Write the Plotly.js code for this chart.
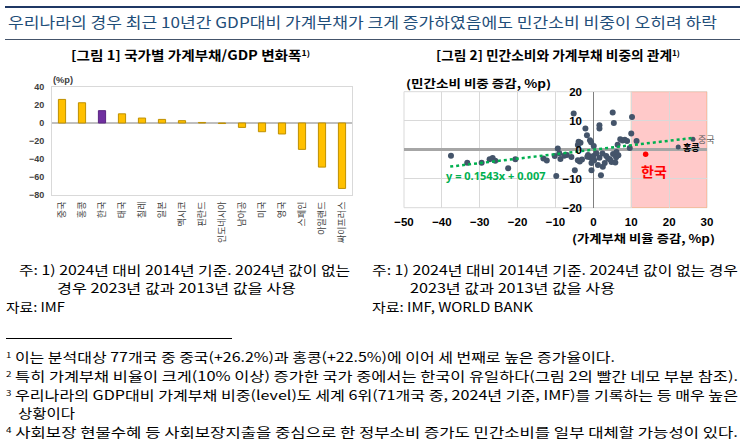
<!DOCTYPE html>
<html><head><meta charset="utf-8">
<script src="https://cdn.plot.ly/plotly-3.0.1.min.js"></script>
<style>
html,body{margin:0;padding:0;background:#fff;width:743px;height:444px;overflow:hidden;}
#chart{position:absolute;left:0;top:0;width:743px;height:444px;}
.t{position:absolute;white-space:nowrap;font-family:"Noto Sans CJK KR","Noto Sans",sans-serif;transform-origin:0 50%;color:#000;}
.hl{position:absolute;}
sup{font-size:60%;vertical-align:0;position:relative;top:-0.55em;}
</style></head><body>
<div id="chart"></div>
<div class="hl" style="left:5px;top:6px;width:735px;height:2px;background:#1f3864"></div>
<div class="t" data-w="709" style="left:8px;top:13px;font-size:15px;line-height:18px;color:#1f4e79;">우리나라의 경우 최근 10년간 GDP대비 가계부채가 크게 증가하였음에도 민간소비 비중이 오히려 하락</div>
<div class="hl" style="left:5px;top:39px;width:735px;height:1px;background:#44546a"></div>
<div class="t" data-w="239" style="left:71px;top:47px;font-size:13px;line-height:16px;font-weight:bold;">[그림 1] 국가별 가계부채/GDP 변화폭<sup>1)</sup></div>
<div class="t" data-w="244" style="left:436px;top:47px;font-size:13px;line-height:16px;font-weight:bold;">[그림 2] 민간소비와 가계부채 비중의 관계<sup>1)</sup></div>
<div class="t" data-w="20" style="left:53px;top:75px;font-size:9px;line-height:11px;font-weight:bold;color:#404040;font-family:'Liberation Sans',sans-serif;">(%p)</div>
<div class="t" data-w="145" style="left:406px;top:77px;font-size:11px;line-height:13px;font-weight:bold;">(민간소비 비중 증감, %p)</div>
<div class="t" data-w="143" style="left:572px;top:232px;font-size:11px;line-height:12px;font-weight:bold;">(가계부채 비율 증감, %p)</div>

<div class="t" data-w="331" style="left:19px;top:262px;font-size:13px;line-height:16px;">주: 1) 2024년 대비 2014년 기준. 2024년 값이 없는</div>
<div class="t" data-w="239" style="left:57px;top:280px;font-size:13px;line-height:16px;">경우 2023년 값과 2013년 값을 사용</div>
<div class="t" data-w="59" style="left:6px;top:299px;font-size:13px;line-height:16px;">자료: IMF</div>
<div class="t" data-w="366" style="left:372px;top:262px;font-size:13px;line-height:16px;">주: 1) 2024년 대비 2014년 기준. 2024년 값이 없는 경우</div>
<div class="t" data-w="205" style="left:410px;top:280px;font-size:13px;line-height:16px;">2023년 값과 2013년 값을 사용</div>
<div class="t" data-w="161" style="left:372px;top:299px;font-size:13px;line-height:16px;">자료: IMF, WORLD BANK</div>

<div class="hl" style="left:6px;top:338px;width:226px;height:1px;background:#000"></div>
<div class="t" data-w="609" style="left:6px;top:349px;font-size:13px;line-height:16px;"><sup>1</sup> 이는 분석대상 77개국 중 중국(+26.2%)과 홍콩(+22.5%)에 이어 세 번째로 높은 증가율이다.</div>
<div class="t" data-w="732" style="left:6px;top:368px;font-size:13px;line-height:16px;"><sup>2</sup> 특히 가계부채 비율이 크게(10% 이상) 증가한 국가 중에서는 한국이 유일하다(그림 2의 빨간 네모 부분 참조).</div>
<div class="t" data-w="732" style="left:6px;top:387px;font-size:13px;line-height:16px;"><sup>3</sup> 우리나라의 GDP대비 가계부채 비중(level)도 세계 6위(71개국 중, 2024년 기준, IMF)를 기록하는 등 매우 높은</div>
<div class="t" data-w="57" style="left:18px;top:405px;font-size:13px;line-height:16px;">상황이다</div>
<div class="t" data-w="732" style="left:6px;top:424px;font-size:13px;line-height:16px;"><sup>4</sup> 사회보장 현물수혜 등 사회보장지출을 중심으로 한 정부소비 증가도 민간소비를 일부 대체할 가능성이 있다.</div>

<script>
// Figure 1 data
const countries = ['중국','홍콩','한국','태국','칠레','일본','멕시코','핀란드','인도네시아','남아공','미국','영국','스페인','아일랜드','싸이프러스'];
const debtChange = [26.2,22.5,13.7,10.2,5.5,4.0,2.6,0.6,-0.6,-4.9,-9.7,-12.2,-29.3,-49.0,-72.7];
const highlightCountry = '한국';

// Figure 2 data (debt/GDP change, private consumption share change)
const debtX = [-37.6,-33.3,-29.5,-27.4,-26.6,-25.9,-22.5,-20.6,-13.2,-12.3,-9.8,-9.4,-10.2,-9.0,-8.7,-7.7,-7.0,-5.8,
  -5.2,-4.9,-4.1,-3.9,-3.4,-4.1,-3.6,-3.0,-2.1,-1.7,-0.9,-0.6,-0.5,-1.4,-0.9,-0.3,0.2,-0.5,0.1,-1.6,0.0,
  1.6,1.6,1.2,2.0,1.6,2.5,2.4,3.4,3.9,4.8,5.1,5.4,5.2,6.0,6.6,6.1,6.4,7.1,7.7,8.3,8.9,9.6,10.0,10.2,11.4,3.0,4.4,5.8,0.8];
const consY = [-2.1,-4.5,-4.5,-3.3,-2.9,-3.8,-6.4,-3.3,-3.0,-3.7,-9.1,0.4,-2.2,-1.2,-3.2,-2.1,-1.8,-2.5,
  12.5,-7.1,1.6,2.7,2.4,-3.6,-4.1,-3.4,7.3,5.0,3.3,2.6,-7.1,-1.8,-2.6,-3.2,-3.6,-4.6,1.3,-2.4,-2.2,
  8.4,7.3,-5.3,-8.8,-2.8,-5.9,-1.3,-2.2,-3.0,-4.2,12.8,9.2,-1.5,-2.6,-1.9,-0.8,1.7,3.6,3.2,3.4,3.0,0.6,5.6,11.3,3.0,-4.6,-3.4,-4.4,-1.2];
const labeledNames = ['중국','홍콩'];
const labeledX = [26.3,22.4];
const labeledY = [3.6,0.9];
const koreaX = [13.8];
const koreaY = [-1.6];
const trendSlope = 0.1543, trendIntercept = 0.007;
const trendRangeX = [-37.8, 26.5];
const highlightBoxX = [10, 30];

const barColors = countries.map(c => c === highlightCountry ? '#7030a0' : '#ffc000');
const barLines = countries.map(c => c === highlightCountry ? '#5b2583' : '#bf9000');

const tickFontBar = {family:'Liberation Sans, Arial, sans-serif', size:9, color:'#404040', weight:'bold'};
const tickFontSc = {family:'Liberation Sans, Arial, sans-serif', size:11.5, color:'#000', weight:'bold'};

const traces = [
  {type:'bar', x:countries, y:debtChange, xaxis:'x', yaxis:'y', width:0.36,
   marker:{color:barColors, line:{color:barLines, width:1}}, hoverinfo:'skip'},
  {type:'scatter', mode:'markers', x:debtX, y:consY, xaxis:'x2', yaxis:'y2',
   marker:{color:'#44546a', size:6}, hoverinfo:'skip'},
  {type:'scatter', mode:'markers', x:labeledX, y:labeledY, xaxis:'x2', yaxis:'y2',
   marker:{color:'#44546a', size:5}, hoverinfo:'skip'},
  {type:'scatter', mode:'lines', x:trendRangeX, y:trendRangeX.map(v => trendSlope*v + trendIntercept), xaxis:'x2', yaxis:'y2',
   line:{color:'#00b050', width:2.5, dash:'dot'}, hoverinfo:'skip'},
  {type:'scatter', mode:'markers', x:koreaX, y:koreaY, xaxis:'x2', yaxis:'y2',
   marker:{color:'#ff0000', size:5.5}, hoverinfo:'skip'}
];

const layout = {
  width:743, height:444, margin:{l:0,r:0,t:0,b:0},
  paper_bgcolor:'rgba(0,0,0,0)', plot_bgcolor:'rgba(0,0,0,0)', showlegend:false,
  xaxis:{domain:[52/743,352/743], anchor:'y', type:'category', tickangle:-90,
    tickfont:{family:'Noto Sans CJK KR', size:9, color:'#404040'}, showline:true, mirror:true,
    linecolor:'#d9d9d9', ticks:'', showgrid:false, fixedrange:true, ticklabelstandoff:2},
  yaxis:{domain:[249/444,357/444], anchor:'x', range:[-80,40], dtick:20, tick0:0, showgrid:false,
    zeroline:true, zerolinecolor:'#bfbfbf', zerolinewidth:1.5, showline:true, mirror:true,
    linecolor:'#d9d9d9', ticks:'', tickfont:tickFontBar, ticklabelstandoff:5},
  xaxis2:{domain:[404/743,707/743], anchor:'y2', range:[-50,30], dtick:10, tick0:0,
    showgrid:true, gridcolor:'#d9d9d9', gridwidth:1, zeroline:true, zerolinecolor:'#7f7f7f', zerolinewidth:1.3,
    ticks:'', tickfont:tickFontSc, ticklabelstandoff:6},
  yaxis2:{domain:[1-207.7/444, 1-91.7/444], anchor:'free', position:593/743, side:'left',
    range:[-20,20], dtick:10, tick0:0, showgrid:true, gridcolor:'#d9d9d9', gridwidth:1,
    zeroline:true, zerolinecolor:'#a6a6a6', zerolinewidth:2.5, ticks:'', tickfont:tickFontSc, ticklabelstandoff:11},
  shapes:[
    {type:'rect', xref:'x2', yref:'y2', x0:highlightBoxX[0], x1:highlightBoxX[1], y0:-20, y1:20,
     fillcolor:'#ffc9c9', line:{color:'#f4b183', width:1}, layer:'below'},
    {type:'rect', xref:'x2 domain', yref:'y2 domain', x0:0, x1:1, y0:0, y1:1,
     fillcolor:'rgba(0,0,0,0)', line:{color:'#d9d9d9', width:1}, layer:'below'}
  ],
  annotations:[
    {xref:'x2', yref:'y2', x:labeledX[0]+0.8, y:labeledY[0], text:labeledNames[0], showarrow:false, xanchor:'left',
     font:{family:'Noto Sans CJK KR', size:9, color:'#595959'}},
    {xref:'x2', yref:'y2', x:labeledX[1]+0.8, y:labeledY[1], text:labeledNames[1], showarrow:false, xanchor:'left',
     font:{family:'Noto Sans CJK KR', size:9, color:'#000', weight:'bold'}},
    {xref:'x2', yref:'y2', x:15.9, y:-7.4, text:highlightCountry, showarrow:false,
     font:{family:'Noto Sans CJK KR', size:14, color:'#ff0000', weight:'bold'}},
    {xref:'x2', yref:'y2', x:-25.9, y:-8.8, text:'y = 0.1543x + 0.007', showarrow:false,
     font:{family:'Noto Sans, sans-serif', size:11, color:'#00b050', weight:'bold'}}
  ]
};

Plotly.newPlot('chart', traces, layout, {staticPlot:true, displayModeBar:false});

function fit(){
  document.querySelectorAll('.t[data-w]').forEach(el => {
    el.style.transform = 'none';
    const w = el.getBoundingClientRect().width;
    if (w > 0) el.style.transform = 'scaleX(' + (parseFloat(el.dataset.w) / w) + ')';
  });
}
fit();
if (document.fonts && document.fonts.ready) document.fonts.ready.then(fit);
</script>
</body></html>
